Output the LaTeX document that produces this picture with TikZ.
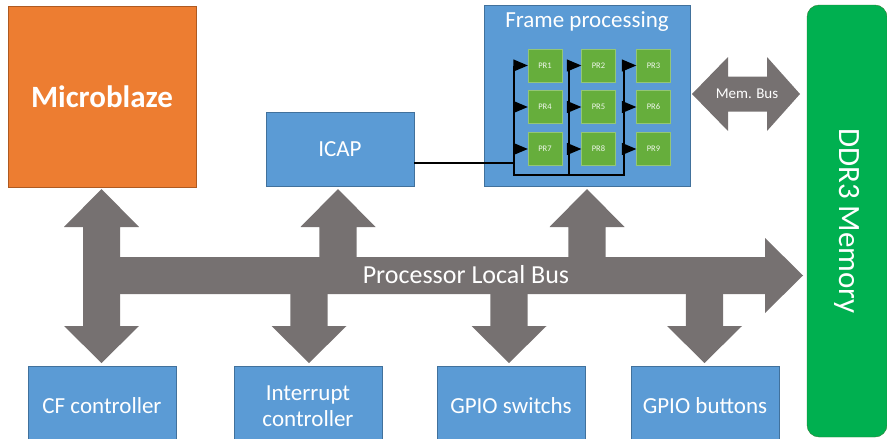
\documentclass[tikz,border=0pt]{standalone}
\usepackage{fontspec}
\setmainfont{Carlito}
\usetikzlibrary{arrows}

\definecolor{boxblue}{HTML}{5B9BD5}
\definecolor{blueline}{HTML}{41719C}
\definecolor{mborange}{HTML}{ED7D31}
\definecolor{orangeline}{HTML}{AE5A21}
\definecolor{memgreen}{HTML}{00B050}
\definecolor{greenline}{HTML}{2E7D32}
\definecolor{prgreen}{HTML}{66AE3C}
\definecolor{busgray}{HTML}{767171}

\tikzset{
  blk/.style={draw=blueline, fill=boxblue, text=white, align=center,
    inner sep=0pt, font=\fontsize{23}{26}\selectfont},
  prbox/.style={draw=prgreen!70!white, fill=prgreen, text=white!90!prgreen,
    minimum width=34pt, minimum height=33pt, inner sep=0pt,
    font=\fontsize{8.5}{10}\selectfont},
  bus/.style={fill=busgray, draw=none},
  wire/.style={line width=2.4pt, black},
}

\begin{document}
\begin{tikzpicture}[x=1pt, y=-1pt]

    \useasboundingbox (0,0) rectangle (887,439);

    % blocks
    \node[draw=orangeline, fill=mborange, text=white, minimum width=188pt, minimum height=181pt,
          font=\fontsize{31}{34}\selectfont\bfseries] (mb) at (102,96.5) {Microblaze};
    \node[blk, minimum width=148pt, minimum height=74pt] (icap) at (340,149) {ICAP};
    \node[blk, minimum width=206pt, minimum height=181pt] (fp) at (587,95.5) {};
    \node[text=white, font=\fontsize{23}{26}\selectfont] (fptitle) at (587,22) {Frame processing};
    \node[draw=greenline, fill=memgreen, rounded corners=12pt, minimum width=432pt,
          minimum height=80pt, text=white, rotate=-90,
          font=\fontsize{31}{34}\selectfont] (ddr) at (847,221) {DDR3 Memory};

    \node[blk, minimum width=148pt, minimum height=80pt] (cf)   at (102,406) {CF controller};
    \node[blk, minimum width=148pt, minimum height=80pt] (irq)  at (308,406) {Interrupt\\controller};
    \node[blk, minimum width=148pt, minimum height=80pt] (gsw)  at (511,406) {GPIO switchs};
    \node[blk, minimum width=148pt, minimum height=80pt] (gbtn) at (705,406) {GPIO buttons};

    % partial regions
    \node[prbox] (pr1) at (545,65.5) {PR1};
    \node[prbox] (pr2) at (598.5,65.5) {PR2};
    \node[prbox] (pr3) at (653.5,65.5) {PR3};
    \node[prbox] (pr4) at (545,107) {PR4};
    \node[prbox] (pr5) at (598.5,107) {PR5};
    \node[prbox] (pr6) at (653.5,107) {PR6};
    \node[prbox] (pr7) at (545,149) {PR7};
    \node[prbox] (pr8) at (598.5,149) {PR8};
    \node[prbox] (pr9) at (653.5,149) {PR9};

    % configuration wires
    \coordinate (c1) at (514,175);
    \coordinate (c2) at (569,175);
    \coordinate (c3) at (624,175);
    \draw[wire] (icap.east |- 0,163) -- (c1 |- 0,163);
    \draw[wire] (c1 |- pr1.west) -- (c1) -- (c3) -- (c3 |- pr3.west);
    \draw[wire] (c2) -- (c2 |- pr2.west);
    \foreach \a/\b in {pr1/c1,pr4/c1,pr7/c1,pr2/c2,pr5/c2,pr8/c2,pr3/c3,pr6/c3,pr9/c3}
      \draw[wire, -triangle 45] (\b |- \a.west) -- (\a.west);

    % processor local bus
    \fill[bus] (83,257) -- (765,257) -- (765,238) -- (803,275.5) -- (765,313)
               -- (765,294) -- (83,294) -- cycle;
    % microblaze link
    \fill[bus] (101.5,189) -- (139,227) -- (120,227) -- (120,326) -- (139,326)
               -- (101.5,363) -- (64,326) -- (83,326) -- (83,227) -- (64,227) -- cycle;
    % up arrows
    \foreach \x in {338, 587}
      \fill[bus] (\x,189) -- (\x+37.5,227) -- (\x+18.7,227) -- (\x+18.7,258)
                 -- (\x-18.7,258) -- (\x-18.7,227) -- (\x-37.5,227) -- cycle;
    % down arrows
    \foreach \x in {309, 509, 704.5}
      \fill[bus] (\x,363) -- (\x+37.5,326) -- (\x+18.7,326) -- (\x+18.7,293)
                 -- (\x-18.7,293) -- (\x-18.7,326) -- (\x-37.5,326) -- cycle;
    \node[text=white, font=\fontsize{26}{30}\selectfont] (plb) at (466,275) {Processor Local Bus};

    % memory bus
    \fill[bus] (692,94) -- (728,57) -- (728,76.5) -- (767,76.5) -- (767,57) -- (800,94)
               -- (767,131) -- (767,111.5) -- (728,111.5) -- (728,131) -- cycle;
    \node[text=white, font=\fontsize{15}{18}\selectfont] (mbus) at (747,94) {Mem. Bus};

\end{tikzpicture}
\end{document}
